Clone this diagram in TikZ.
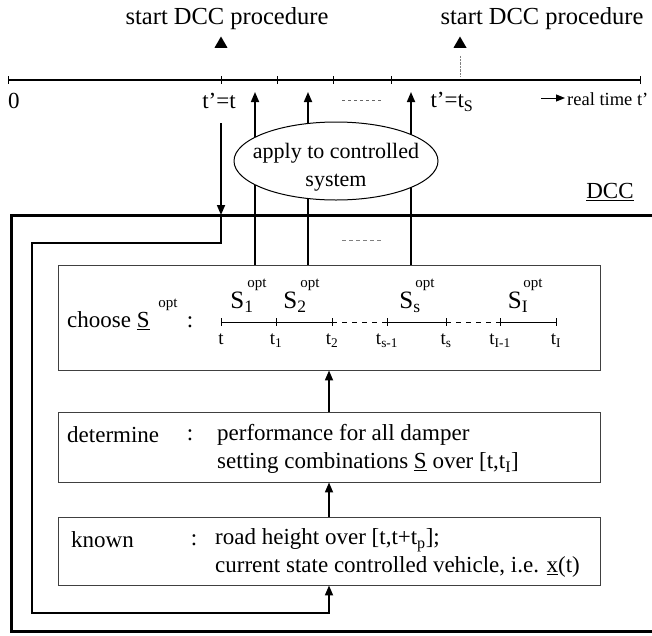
\documentclass[tikz,border=0pt]{standalone}
\usepackage{fontspec}
\setmainfont{Liberation Serif}
\usepackage{tikz}
\usetikzlibrary{positioning, arrows.meta, shapes.geometric}

\tikzset{
  box/.style={draw=black!75, line width=0.9pt, minimum width=542pt, inner sep=0pt},
  flow/.style={line width=1.7pt, -{Triangle[length=10pt, width=8pt]}},
  txt/.style={inner sep=0pt, anchor=west},
  small/.style={font=\fontsize{19}{22}\selectfont, inner sep=0pt},
  tiny/.style={font=\fontsize{15}{17}\selectfont, inner sep=0pt},
  marker/.style={regular polygon, regular polygon sides=3, fill, inner sep=0pt, minimum size=15pt},
}

\begin{document}
\begin{tikzpicture}[x=1pt, y=-1pt, font=\fontsize{23}{28}\selectfont]
\useasboundingbox (0,0) rectangle (652,635);

% real time axis
\draw[line width=1.1pt] (8,80) -- (640,80);
\foreach \x in {8,221,277,333,391,640}
  \draw[line width=0.8pt] (\x,76) -- (\x,84);

\node[marker] (tri1) at (221,44) {};
\node[marker] (tri2) at (460,44) {};
\node[font=\fontsize{24.5}{28}\selectfont] (start1) at (227,19) {start DCC procedure};
\node[font=\fontsize{24.5}{28}\selectfont] (start2) at (542,19) {start DCC procedure};
\draw[densely dotted, black!50] (tri2.south) ++(0,8) -- (460,76);

\node[txt] (zero) at (8,101) {0};
\node (tnow) at (219,101) {t'=t};
\node (ts) at (452,102) {t'=t\textsubscript{S}};
\draw[black!60, dash pattern=on 3pt off 3pt] (342,100) -- (383,100);
\coordinate (rt) at (541,98);
\draw[-{Triangle[length=9pt, width=7pt]}, line width=1pt] (rt) -- ++(24,0);
\node[txt, font=\fontsize{18.5}{22}\selectfont] (realt) at (567,99) {real time t'};

% DCC block
\node[box, minimum height=105pt] (choose) at (329,317.5) {};
\node[box, minimum height=70pt] (determine) at (329,447) {};
\node[box, minimum height=68pt] (known) at (329,551) {};

\coordinate (up1) at (255,92);
\coordinate (up2) at (308,92);
\coordinate (up3) at (411,92);
\foreach \c in {up1,up2,up3}
  \draw[flow] (choose.north -| \c) -- (\c);

\node[ellipse, draw, fill=white, line width=1pt, minimum width=204pt, minimum height=78pt, inner sep=-20pt, align=center, font=\fontsize{22}{28}\selectfont] (apply) at (336,161) {\rule{0pt}{28pt}apply to controlled\\system};

\draw[line width=3pt] (660,215) -- (11,215) -- (11,631) -- (660,631);
\node (dcc) at (610,192) {\underline{DCC}};
\draw[black!50, dash pattern=on 4pt off 3pt] (342,240) -- (383,240);

% feedback loop
\coordinate (top) at (221,123);
\coordinate (inbox) at (221,215);
\draw[flow] (top) -- (inbox);
\draw[flow] (inbox) |- (32,243) -- (32,613) -| (known.south);
\draw[flow] (determine.north) -- (choose.south);
\draw[flow] (known.north) -- (determine.south);

% choose
\node[txt] (chooselbl) at (67,321) {choose \underline{S}};
\node[tiny] (sopt) at (168,305) {opt};
\node (col1) at (190,322) {:};
\draw[line width=0.8pt] (221,322) -- (332,322) (387,322) -- (446,322) (500,322) -- (556,322);
\draw[line width=0.8pt, dash pattern=on 5pt off 5pt] (332,322) -- (387,322) (446,322) -- (500,322);
\foreach \x/\t [count=\i] in {221/t, 276/t\textsubscript{1}, 332/t\textsubscript{2}, 387/t\textsubscript{s-1}, 446/t\textsubscript{s}, 500/t\textsubscript{I-1}, 556/t\textsubscript{I}} {
  \draw[line width=0.8pt] (\x,318) -- (\x,326);
  \node[small, anchor=north] (tick\i) at (\x,334) {\t};
}
\foreach \x/\s [count=\i] in {242/1, 295/2, 410/s, 518/I} {
  \node[font=\fontsize{25}{28}\selectfont] (S\i) at (\x,302) {S\textsubscript{\s}};
  \node[tiny] (opt\i) at (\x+15,285) {opt};
}

% determine
\node[txt] (detlbl) at (67,435) {determine};
\node (col2) at (190,435) {:};
\node[txt] (det1) at (217,435) {performance for all damper};
\node[txt] (det2) at (217,463) {setting combinations \underline{S} over [t,t\textsubscript{I}]};

% known
\node[txt] (knlbl) at (71,540) {known};
\node (col3) at (194,540) {:};
\node[txt] (kn1) at (215,540) {road height over [t,t+t\textsubscript{p}];};
\node[txt] (kn2) at (215,567) {current state controlled vehicle, i.e. \underline{x}(t)};
\end{tikzpicture}
\end{document}
